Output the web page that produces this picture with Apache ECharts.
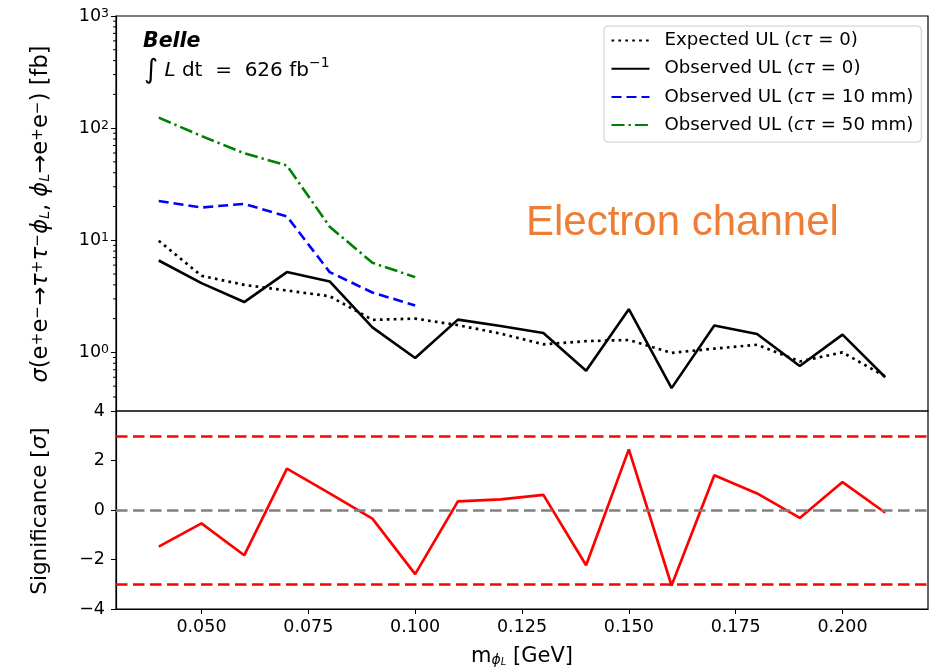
<!DOCTYPE html>
<html><head><meta charset="utf-8">
<script src="https://cdn.jsdelivr.net/npm/echarts@6/dist/echarts.min.js"></script>
<style>html,body{margin:0;padding:0;background:#fff}#c{width:943px;height:672px}</style>
</head><body><div id="c"></div>
<script>
// ---- data ----
const masses = [0.04,0.05,0.06,0.07,0.08,0.09,0.10,0.11,0.12,0.13,0.14,0.15,0.16,0.17,0.18,0.19,0.20,0.21];
const expectedUL = [9.9,4.82,4.0,3.56,3.17,1.95,2.0,1.75,1.47,1.18,1.26,1.29,0.99,1.08,1.17,0.83,1.0,0.61];
const observedUL = [6.6,4.15,2.81,5.2,4.29,1.67,0.89,1.96,1.72,1.49,0.686,2.43,0.48,1.74,1.46,0.755,1.44,0.60];
const observedUL10mm = [22.4,19.6,21.1,16.3,5.2,3.42,2.62];
const observedUL50mm = [124,85,59.7,46.4,13.2,6.3,4.69];
const significance = [-1.48,-0.54,-1.83,1.67,0.67,-0.35,-2.59,0.35,0.43,0.61,-2.23,2.45,-3.05,1.40,0.67,-0.32,1.13,-0.11];
const xTickValues = [0.05,0.075,0.1,0.125,0.15,0.175,0.2];
const minorLogTicks = [0.4,0.5,0.6,0.7,0.8,0.9,2,3,4,5,6,7,8,9,20,30,40,50,60,70,80,90,200,300,400,500,600,700,800,900];
const sigmaBands = [3,-3];
const seriesNames = ['Expected UL (cτ = 0)','Observed UL (cτ = 0)','Observed UL (cτ = 10 mm)','Observed UL (cτ = 50 mm)'];

const FF = 'DejaVu Sans';
const pair = (vals) => vals.map((v,i)=>[masses[i], v]);

const chart = echarts.init(document.getElementById('c'), null, {renderer:'canvas'});
chart.setOption({
  animation:false,
  backgroundColor:'#fff',
  grid:[
    {left:116,top:16,width:812,height:395,show:true,borderColor:'#000',borderWidth:1.2,backgroundColor:'transparent'},
    {left:116,top:411,width:812,height:198,show:true,borderColor:'#000',borderWidth:1.2,backgroundColor:'transparent'}
  ],
  xAxis:[
    {type:'value',gridIndex:0,min:0.03,max:0.22,axisLine:{show:false},axisTick:{show:false},axisLabel:{show:false},splitLine:{show:false}},
    {type:'value',gridIndex:1,min:0.03,max:0.22,
     axisLine:{show:true,onZero:false,lineStyle:{color:'#000',width:1.2}},
     axisTick:{show:true,length:5,lineStyle:{color:'#000',width:1},customValues:xTickValues},
     axisLabel:{show:true,customValues:xTickValues,margin:9,fontFamily:FF,fontSize:17.5,color:'#000',formatter:v=>v.toFixed(3)},
     splitLine:{show:false}}
  ],
  yAxis:[
    {type:'log',gridIndex:0,logBase:10,min:0.3,max:1000,
     axisLine:{show:true,lineStyle:{color:'#000',width:1.2}},
     axisTick:{show:true,length:5,lineStyle:{color:'#000',width:1}},
     axisLabel:{show:true,margin:7,fontFamily:FF,fontSize:17.5,color:'#000',
       formatter:function(v){const e=Math.log10(v);const r=Math.round(e);if(Math.abs(e-r)>1e-6)return '';return '10{sup|'+r+'}';},
       rich:{sup:{fontFamily:FF,fontSize:12.5,verticalAlign:'top',lineHeight:14,padding:[0,0,8,0],color:'#000'}}},
     splitLine:{show:false}},
    {type:'value',gridIndex:1,min:-4,max:4,interval:2,
     axisLine:{show:true,onZero:false,lineStyle:{color:'#000',width:1.2}},
     axisTick:{show:true,length:5,lineStyle:{color:'#000',width:1}},
     axisLabel:{show:true,margin:11,fontFamily:FF,fontSize:17.5,color:'#000',formatter:v=>String(v).replace('-','\u2212')},
     splitLine:{show:false}}
  ],
  legend:{
    data:seriesNames,
    orient:'vertical',left:604,top:26,
    itemWidth:38,itemHeight:14,itemGap:8.2,
    padding:[4.5,8,7,6.5],
    backgroundColor:'rgba(255,255,255,0.8)',borderColor:'#cccccc',borderWidth:1,borderRadius:4,
    itemStyle:{opacity:0,borderWidth:0},
    formatter:n=>n.replace('cτ','{i|cτ}'),
    textStyle:{fontFamily:FF,fontSize:18.2,color:'#000',lineHeight:20,padding:[0,0,0,10],
      rich:{i:{fontFamily:FF,fontSize:18.2,fontStyle:'italic',color:'#000',lineHeight:20}}},
    selectedMode:false
  },
  series:[
    {name:seriesNames[0],type:'line',xAxisIndex:0,yAxisIndex:0,data:pair(expectedUL),symbol:'none',
     lineStyle:{color:'#000',width:2.7,type:[2.7,4.2]},itemStyle:{color:'#000'},z:3},
    {name:seriesNames[1],type:'line',xAxisIndex:0,yAxisIndex:0,data:pair(observedUL),symbol:'none',
     lineStyle:{color:'#000',width:2.6,type:'solid'},itemStyle:{color:'#000'},z:4},
    {name:seriesNames[2],type:'line',xAxisIndex:0,yAxisIndex:0,data:pair(observedUL10mm),symbol:'none',
     lineStyle:{color:'#0000ff',width:2.6,type:[10,5]},itemStyle:{color:'#0000ff'},z:3},
    {name:seriesNames[3],type:'line',xAxisIndex:0,yAxisIndex:0,data:pair(observedUL50mm),symbol:'none',
     lineStyle:{color:'#008000',width:2.6,type:[13,4,2.4,4]},itemStyle:{color:'#008000'},z:3},
    {name:'minorTicks',type:'custom',xAxisIndex:0,yAxisIndex:0,silent:true,clip:false,
     data:minorLogTicks.map(v=>[0.03,v]),
     renderItem:function(params,api){
       const p=api.coord([api.value(0),api.value(1)]);
       return {type:'line',shape:{x1:p[0]-3,y1:p[1],x2:p[0],y2:p[1]},style:{stroke:'#000',lineWidth:1}};
     }},
    {name:'Significance',type:'line',xAxisIndex:1,yAxisIndex:1,data:pair(significance),symbol:'none',
     lineStyle:{color:'#ff0000',width:2.7},itemStyle:{color:'#ff0000'},z:4,
     markLine:{silent:true,symbol:['none','none'],label:{show:false},animation:false,
       data:[
         ...sigmaBands.map(v=>({yAxis:v,lineStyle:{color:'#ff0000',width:2.7,type:[11.5,5.5]}})),
         {yAxis:0,lineStyle:{color:'#808080',width:2.7,type:[11.5,5.5]}}
       ]}}
  ],
  graphic:[
    {type:'text',x:143,y:41.5,style:{text:'Belle',fontFamily:FF,fontSize:20.5,fontWeight:'bold',fontStyle:'italic',fill:'#000',verticalAlign:'middle'}},
    {type:'text',x:144,y:71,style:{
      text:'{int|∫}{it| L}{n| dt  =  626 fb}{sup|−1}',verticalAlign:'middle',
      rich:{
        int:{fontFamily:FF,fontSize:27,color:'#000',lineHeight:30},
        it:{fontFamily:FF,fontSize:20,fontStyle:'italic',color:'#000',lineHeight:30},
        n:{fontFamily:FF,fontSize:20,color:'#000',lineHeight:30},
        sup:{fontFamily:FF,fontSize:14,color:'#000',verticalAlign:'top',lineHeight:22}
      }}},
    {type:'text',x:526,y:223,style:{text:'Electron channel',fontFamily:'Liberation Sans',fontSize:42,fill:'#EE7D35',verticalAlign:'middle'}},
    {type:'text',x:522,y:657,style:{
      text:'m{sub|ϕ}{ss|L} [GeV]',align:'center',verticalAlign:'middle',
      rich:{
        sub:{fontFamily:FF,fontSize:14,fontStyle:'italic',color:'#000',verticalAlign:'bottom',lineHeight:16},
        ss:{fontFamily:FF,fontSize:10,fontStyle:'italic',color:'#000',verticalAlign:'bottom',lineHeight:12}
      },fontFamily:FF,fontSize:21,fill:'#000'}},
    {type:'text',x:41,y:214,rotation:Math.PI/2,style:{
      text:'{it|σ}(e{sup|+}e{sup|−}→{it|τ}{sup|+}{it|τ}{sup|−}{it|ϕ}{sub|L}, {it|ϕ}{sub|L}→e{sup|+}e{sup|−}) [fb]',
      align:'center',verticalAlign:'middle',fontFamily:FF,fontSize:22.5,fill:'#000',
      rich:{
        it:{fontFamily:FF,fontSize:22.5,fontStyle:'italic',color:'#000'},
        sup:{fontFamily:FF,fontSize:15.5,color:'#000',verticalAlign:'top',lineHeight:15},
        sub:{fontFamily:FF,fontSize:14.5,fontStyle:'italic',color:'#000',verticalAlign:'bottom',lineHeight:15}
      }}},
    {type:'text',x:40,y:511,rotation:Math.PI/2,style:{
      text:'Significance [{it|σ}]',align:'center',verticalAlign:'middle',fontFamily:FF,fontSize:21.5,fill:'#000',
      rich:{it:{fontFamily:FF,fontSize:21.5,fontStyle:'italic',color:'#000'}}}}
  ]
});
</script>
</body></html>
